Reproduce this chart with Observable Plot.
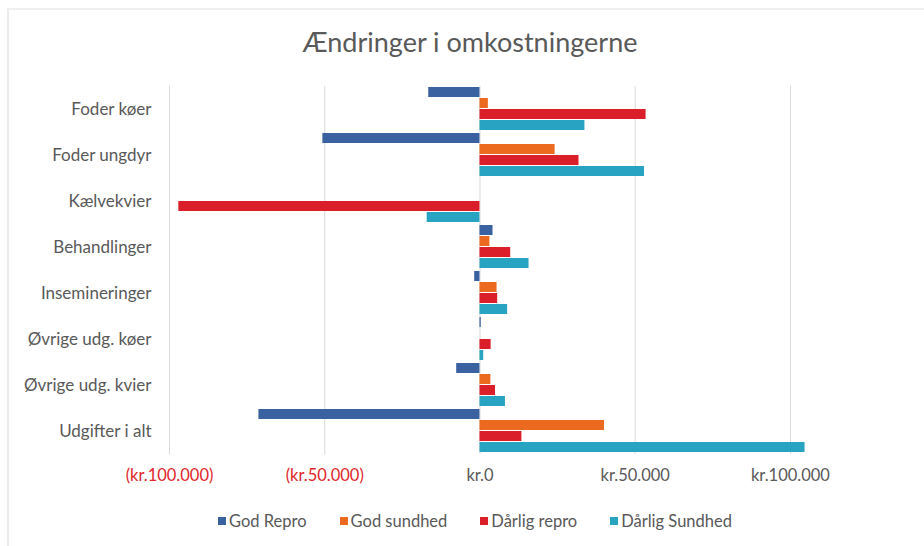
<!DOCTYPE html>
<html>
<head>
<meta charset="utf-8">
<script src="https://cdn.jsdelivr.net/npm/d3@7"></script>
<script src="https://cdn.jsdelivr.net/npm/@observablehq/plot@0.6"></script>
<style>
  html, body { margin: 0; padding: 0; background: #fff; }
  body { width: 924px; height: 546px; position: relative; overflow: hidden; font-family: Lato, "Open Sans", sans-serif; }
  #frame { position: absolute; left: 7px; top: 8px; right: -10px; bottom: -10px; border-left: 2px solid #ebebeb; border-top: 2px solid #f0f0f0; }
  #title { position: absolute; top: 25px; left: 0; width: 940px; text-align: center; font-size: 27px; color: #595959; }
  #chart { position: absolute; left: 0; top: 0; }
  #legend { position: absolute; top: 511px; left: 0; width: 950px; display: flex; justify-content: center; gap: 33px; font-size: 16.5px; color: #595959; }
  #legend span.item { display: flex; align-items: center; }
  #legend span.sw { display: inline-block; width: 8px; height: 8px; margin-right: 3px; }
</style>
</head>
<body>
<div id="frame"></div>
<div id="title">Ændringer i omkostningerne</div>
<div id="chart"></div>
<div id="legend"></div>
<script>
const categories = ["Foder køer", "Foder ungdyr", "Kælvekvier", "Behandlinger", "Insemineringer", "Øvrige udg. køer", "Øvrige udg. kvier", "Udgifter i alt"];
const seriesNames = ["God Repro", "God sundhed", "Dårlig repro", "Dårlig Sundhed"];
const seriesColors = ["#3a62a0", "#eb6a1f", "#db1f2a", "#28a3c1"];
const godRepro      = [-16500, -50600,      0,  4200, -1700,  400, -7500, -71200];
const godSundhed    = [  2700,  24200,      0,  3200,  5500,    0,  3500,  40100];
const darligRepro   = [ 53500,  31900, -97000,  9900,  5700, 3600,  5000,  13500];
const darligSundhed = [ 33800,  53000, -17000, 15800,  8900, 1200,  8200, 104700];
const xTicks = [-100000, -50000, 0, 50000, 100000];

const seriesValues = [godRepro, godSundhed, darligRepro, darligSundhed];
const rows = [];
categories.forEach((c, i) => {
  seriesNames.forEach((s, j) => rows.push({category: c, series: s, value: seriesValues[j][i]}));
});

const fmt = v => d3.format(",")(Math.abs(v)).replace(/,/g, ".");
const tickText = v => v < 0 ? `(kr.${fmt(v)})` : `kr.${fmt(v)}`;

const plot = Plot.plot({
  width: 924,
  height: 546,
  marginTop: 85,
  marginBottom: 91,
  marginLeft: 169,
  marginRight: 103,
  style: {fontFamily: "Lato, 'Open Sans', sans-serif", background: "transparent", overflow: "visible"},
  x: {domain: [-100000, 110000], axis: null},
  y: {domain: seriesNames, axis: null, paddingInner: 0.05, paddingOuter: 0.05},
  fy: {domain: categories, padding: 0, label: null},
  color: {domain: seriesNames, range: seriesColors},
  marks: [
    Plot.gridX({ticks: xTicks, stroke: "#d9d9d9", strokeOpacity: 1, strokeWidth: 1}),
    Plot.barX(rows, {fy: "category", y: "series", x: "value", fill: "series"}),
    Plot.axisX({ticks: xTicks, tickSize: 0, tickPadding: 15, tickFormat: tickText, label: null,
      fill: d => d < 0 ? "#e0262b" : "#595959", fontSize: 16.5}),
    Plot.axisFy({anchor: "left", tickSize: 0, tickPadding: 18, label: null, fill: "#595959", fontSize: 17})
  ]
});
document.getElementById("chart").appendChild(plot);

const legend = document.getElementById("legend");
seriesNames.forEach((s, i) => {
  const item = document.createElement("span");
  item.className = "item";
  const sw = document.createElement("span");
  sw.className = "sw";
  sw.style.background = seriesColors[i];
  item.appendChild(sw);
  item.appendChild(document.createTextNode(s));
  legend.appendChild(item);
});
</script>
</body>
</html>
